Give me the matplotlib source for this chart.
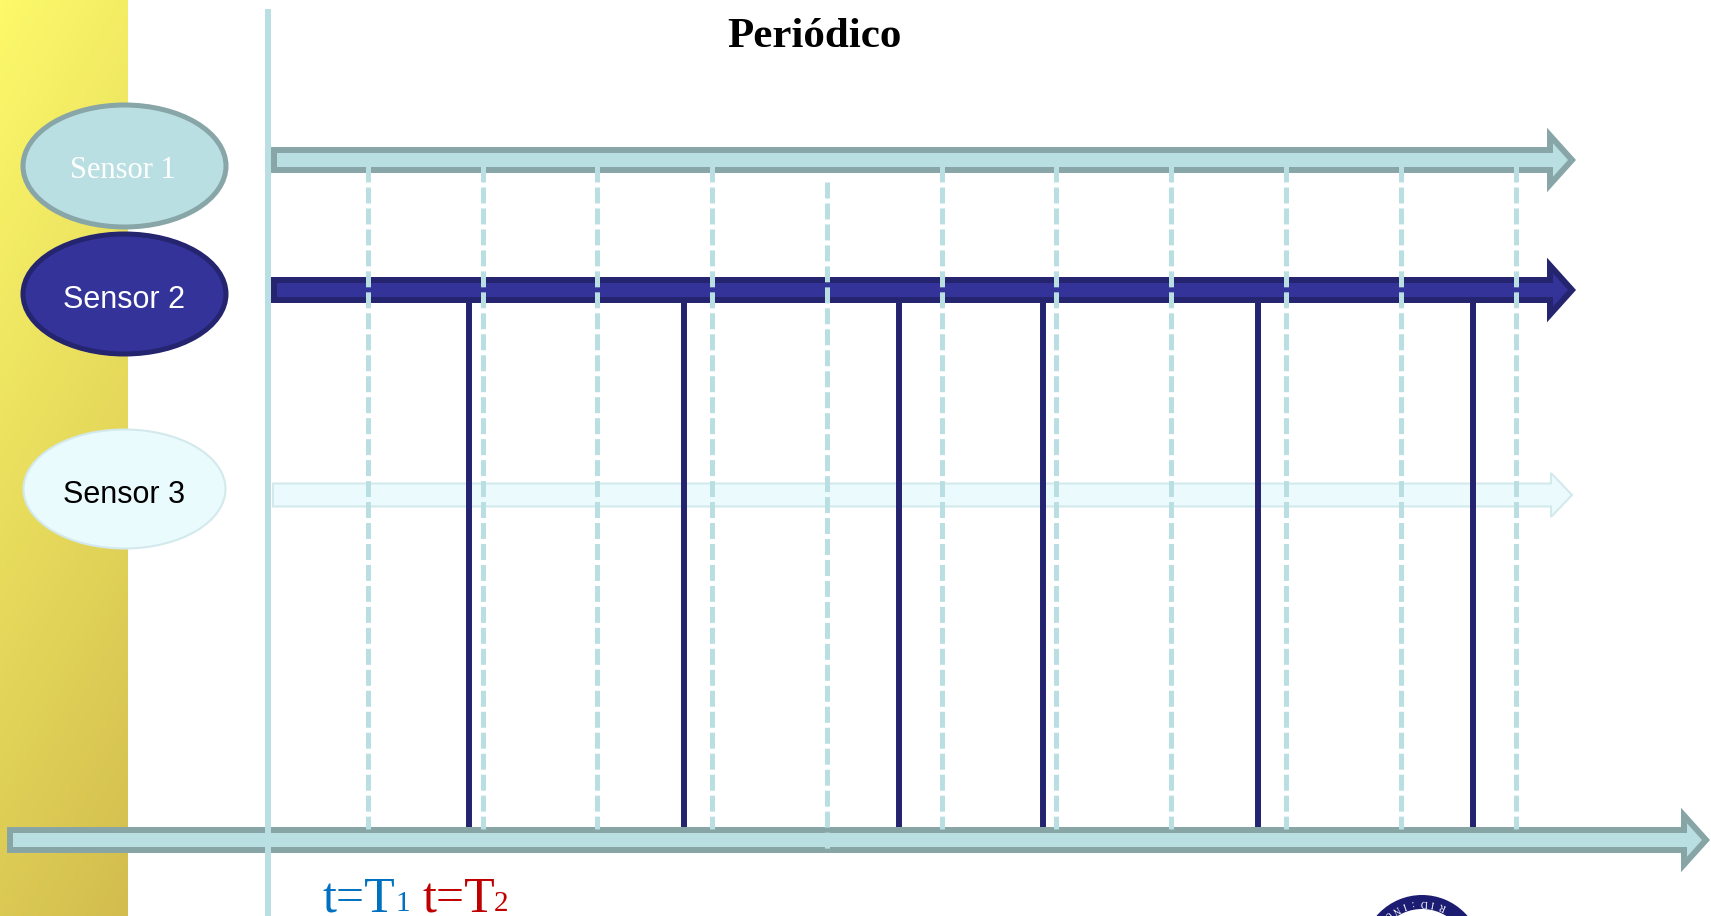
import numpy as np
import matplotlib.pyplot as plt
from matplotlib.patches import Ellipse, Polygon, Wedge

plt.rcParams['lines.scale_dashes'] = False

# timeline layout (canvas units, y grows downwards)
W, H = 1711, 916
axis_x = 268

# sensor names and their timeline rows
sensors = ['Sensor 1', 'Sensor 2', 'Sensor 3']
sensor_rows = [160, 290, 495]

# periodic sampling instants of sensor 1 (dashed)
periodic_t = [368, 483, 597, 712, 827, 942, 1056, 1171, 1286, 1401, 1516]
# event instants of sensor 2 (solid)
event_t = [469, 684, 899, 1043, 1258, 1473]

fig = plt.figure(figsize=(W / 100, H / 100), dpi=100)
ax = fig.add_axes([0, 0, 1, 1])
ax.set_xlim(0, W)
ax.set_ylim(H, 0)
ax.axis('off')

# yellow side band with a soft diagonal gradient
yy, xx = np.mgrid[0:1:200j, 0:1:40j]
s = 0.8 * yy + 0.2 * xx
top = np.array([252, 249, 106]) / 255
bot = np.array([210, 189, 78]) / 255
grad = top[None, None, :] * (1 - s[..., None]) + bot[None, None, :] * s[..., None]
ax.imshow(grad, extent=[0, 128, H, 0], aspect='auto', zorder=0)


def arrow(x0, tip, yc, body, head, head_len, fc, ec, lw, z):
    xb = tip - head_len
    pts = [(x0, yc - body / 2), (xb, yc - body / 2), (xb, yc - head / 2), (tip, yc),
           (xb, yc + head / 2), (xb, yc + body / 2), (x0, yc + body / 2)]
    ax.add_patch(Polygon(pts, closed=True, fc=fc, ec=ec, lw=lw, joinstyle='miter', zorder=z))


# sensor timelines
arrow(274, 1572, sensor_rows[0], 20, 49, 22, '#b9dfe2', '#88a6a8', 4.3, 2)
arrow(274, 1572, sensor_rows[1], 20, 49, 22, '#333399', '#24246f', 4.3, 2)
arrow(273, 1572, sensor_rows[2], 23, 44, 21, '#ebfbfd', '#d3e9ec', 1.5, 2)

# global time axis
arrow(10, 1706, 840, 20, 49, 22, '#b9dfe2', '#88a5a6', 4.3, 2)

# vertical reference line
ax.plot([axis_x, axis_x], [9, H], color='#b9dfe2', lw=4.3, solid_capstyle='butt', zorder=6)

# sensor 2 events
for t in event_t:
    ax.plot([t, t], [303, 827], color='#232370', lw=4.3, solid_capstyle='butt', zorder=3)

# sensor 1 periodic samples
for i, t in enumerate(periodic_t):
    y0, y1 = (182, 851) if i == 4 else (166, 829)
    ax.plot([t, t], [y0, y1], color='#b9dfe2', lw=3.6, dashes=(11.5, 3.6),
            dash_capstyle='butt', zorder=4)

# sensor ovals
ovals = [((124.5, 166), 203, 122, '#b9dfe2', '#88a6a8', 3.6),
         ((124.5, 294), 203, 120, '#333399', '#24246f', 3.6),
         ((124.5, 489), 202, 119, '#eafbfd', '#d3e9ec', 1.5)]
for (c, w, h, fc, ec, lw) in ovals:
    ax.add_patch(Ellipse(c, w, h, fc=fc, ec=ec, lw=lw, zorder=5))

ax.text(123, 171, sensors[0], color='white', fontsize=22, family='Liberation Serif',
        ha='center', va='center', zorder=7)
ax.text(124, 300, sensors[1], color='white', fontsize=22, family='Liberation Sans',
        ha='center', va='center', zorder=7)
ax.text(124, 495, sensors[2], color='black', fontsize=22, family='Liberation Sans',
        ha='center', va='center', zorder=7)

ax.text(814, 47, 'Periódico', fontsize=31, fontweight='bold', family='Liberation Serif',
        ha='center', va='baseline', zorder=7)

# period labels
ax.text(323, 911, 't=T', color='#0070c0', fontsize=36, family='Liberation Serif',
        va='baseline', zorder=7)
ax.text(395, 911, '1', color='#0070c0', fontsize=21, family='Liberation Serif',
        va='baseline', zorder=7)
ax.text(423, 911, 't=T', color='#c00000', fontsize=36, family='Liberation Serif',
        va='baseline', zorder=7)
ax.text(494, 911, '2', color='#c00000', fontsize=21, family='Liberation Serif',
        va='baseline', zorder=7)

# seal peeking in at the bottom edge
cx, cy, r = 1422, 955, 60
ax.add_patch(Wedge((cx, cy), r, 0, 360, width=14, fc='#1c1c72', ec='none', zorder=5))
for ch, ang in zip('UNI:DIR', [130, 119, 110, 100, 88, 78, 67]):
    a = np.deg2rad(ang)
    ax.text(cx + 53 * np.cos(a), cy - 53 * np.sin(a), ch, color='white', fontsize=7,
            family='Liberation Serif', ha='center', va='center', rotation=ang + 90, zorder=6)

fig.savefig('out.png', dpi=100)
